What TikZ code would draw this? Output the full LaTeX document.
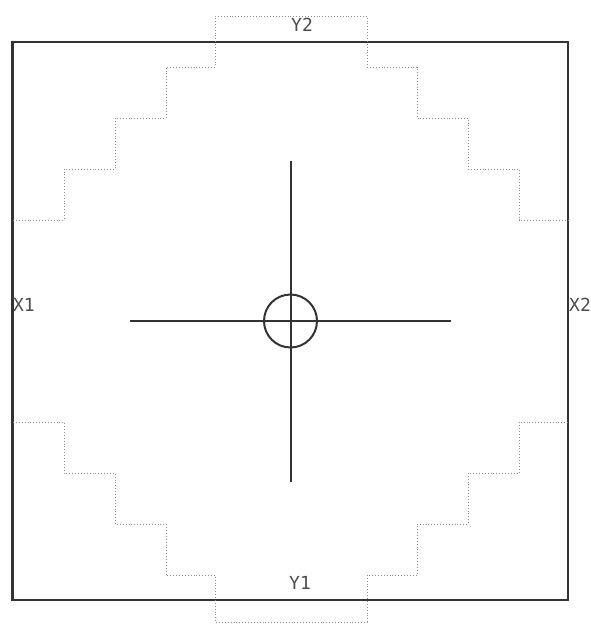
\documentclass[tikz,border=0pt]{standalone}
\usepackage{fontspec}
\newfontfamily\plotfont{DejaVu Sans Mono}
\begin{document}
\begin{tikzpicture}[x=1pt,y=-1pt,
  frame/.style={draw=black!80,line width=2.2pt},
  crossline/.style={draw=black!80,line width=2pt},
  stairs/.style={draw=black!45,line width=0.9pt,dotted},
  lbl/.style={font=\plotfont\fontsize{18}{18}\selectfont,text=black!70,inner sep=0pt}]
\useasboundingbox (0,0) rectangle (591,624);
% outer frame
\draw[frame] (12.5,42) rectangle (568,600);
% stepped outline (top)
\draw[stairs] (13,220) -- (64,220) -- (64,169) -- (115,169) -- (115,118) -- (166,118)
  -- (166,67) -- (215,67) -- (215,16) -- (367,16) -- (367,67) -- (417,67) -- (417,118)
  -- (468,118) -- (468,169) -- (519,169) -- (519,220) -- (568,220);
% stepped outline (bottom)
\draw[stairs] (13,422) -- (64,422) -- (64,473) -- (115,473) -- (115,524) -- (166,524)
  -- (166,575) -- (215,575) -- (215,622) -- (367,622) -- (367,575) -- (417,575) -- (417,524)
  -- (468,524) -- (468,473) -- (519,473) -- (519,422) -- (568,422);
% centre mark
\node[draw=black!80,line width=2pt,circle,minimum size=53pt,inner sep=0pt] (c) at (290.5,321) {};
\coordinate (l) at (130,321);
\coordinate (r) at (451,321);
\coordinate (t) at (290.5,161);
\coordinate (b) at (290.5,482);
\draw[crossline] (l) -- (r);
\draw[crossline] (t) -- (b);
% labels
\node[lbl] (y2) at (302,25) {Y2};
\node[lbl] (y1) at (300,583) {Y1};
\node[lbl] (x1) at (24,305) {X1};
\node[lbl] (x2) at (580,305) {X2};
\end{tikzpicture}
\end{document}
